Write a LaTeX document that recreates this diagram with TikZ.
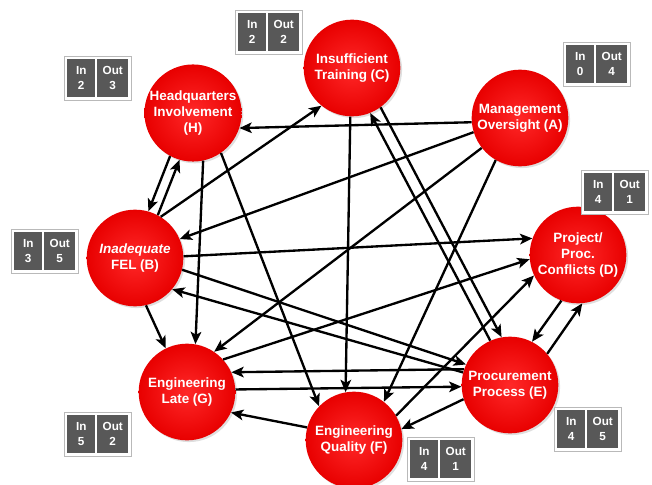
\documentclass[tikz,border=0pt]{standalone}
\usepackage{fontspec}
\setmainfont{Liberation Sans}
\usetikzlibrary{arrows.meta,shadows}
\definecolor{redhi}{RGB}{255,40,40}
\definecolor{reddk}{RGB}{232,0,0}
\definecolor{cellgray}{RGB}{88,88,88}
\newcommand\ioBox[5]{%
  \node[ioframe] (#1) at (#2,#3) {};
  \node[iocell, minimum width=0.84cm] (#1in) at ([shift={(3,3)}]#1.north west) {In\\#4};
  \node[iocell, minimum width=0.93cm] (#1out) at ([shift={(33,3)}]#1.north west) {Out\\#5};
}
\begin{document}
\begin{tikzpicture}[x=0.03cm,y=-0.03cm,
  factor/.style={circle, minimum size=2.9cm, inner sep=0pt, align=center,
    text=white, font=\fontsize{11.5}{13.5}\selectfont\bfseries,
    shade, inner color=redhi, outer color=reddk,
    drop shadow={opacity=0.25, shadow xshift=1.5pt, shadow yshift=-1.5pt}},
  ioframe/.style={draw=gray!55, fill=white, minimum width=2.01cm, minimum height=1.32cm,
    inner sep=0pt, anchor=north west,
    drop shadow={opacity=0.35, shadow xshift=1pt, shadow yshift=-1pt}},
  iocell/.style={fill=cellgray, text=white, inner sep=0pt, anchor=north west,
    minimum height=1.14cm, align=center, font=\fontsize{10}{13}\selectfont\bfseries},
  arr/.style={-{Stealth[length=10.5pt,width=9pt,inset=2.5pt]}, line width=2pt, black}]
\useasboundingbox (0,0) rectangle (652,485);
\clip (0,0) rectangle (652,485);

% factors
\node[factor] (c) at (352,68) {Insufficient\\Training (C)};
\node[factor] (a) at (520,118) {Management\\Oversight (A)};
\node[factor] (h) at (193,113) {Headquarters\\Involvement\\(H)};
\node[factor] (b) at (135,258) {\textit{Inadequate}\\FEL (B)};
\node[factor] (d) at (578,255) {Project/\\Proc.\\Conflicts (D)};
\node[factor] (g) at (187,392) {Engineering\\Late (G)};
\node[factor] (e) at (510,385) {Procurement\\Process (E)};
\node[factor] (f) at (354,440) {Engineering\\Quality (F)};

% in/out boxes
\ioBox{boxC}{235}{10}{2}{2}
\ioBox{boxH}{64}{56}{2}{3}
\ioBox{boxA}{563}{42}{0}{4}
\ioBox{boxD}{581}{170}{4}{1}
\ioBox{boxB}{11}{229}{3}{5}
\ioBox{boxG}{64}{412}{5}{2}
\ioBox{boxF}{407}{437}{4}{1}
\ioBox{boxE}{554}{407}{4}{5}

% connectors
\draw[arr] (a.185) -- (h.342);
\draw[arr] (a.197) -- (b.23);
\draw[arr] (a.218) -- (g.56);
\draw[arr] (a.240) -- (f.52);
\draw[arr] (h.242) -- (b.74);
\draw[arr] (b.62) -- (h.254);
\draw[arr] (b.58) -- (c.231);
\draw[arr] (b.2) -- (d.160);
\draw[arr] (b.283) -- (g.116);
\draw[arr] (b.346) -- (e.155);
\draw[arr] (e.165) -- (b.320);
\draw[arr] (c.306) -- (e.100);
\draw[arr] (e.114) -- (c.292);
\draw[arr] (c.268) -- (f.100);
\draw[arr] (h.282) -- (g.80);
\draw[arr] (h.305) -- (f.136);
\draw[arr] (g.42) -- (d.185);
\draw[arr] (g.3) -- (e.182);
\draw[arr] (e.161) -- (g.24);
\draw[arr] (f.30) -- (d.205);
\draw[arr] (e.197) -- (f.13);
\draw[arr] (f.165) -- (g.335);
\draw[arr] (e.40) -- (d.275);
\draw[arr] (d.250) -- (e.63);
\end{tikzpicture}
\end{document}
